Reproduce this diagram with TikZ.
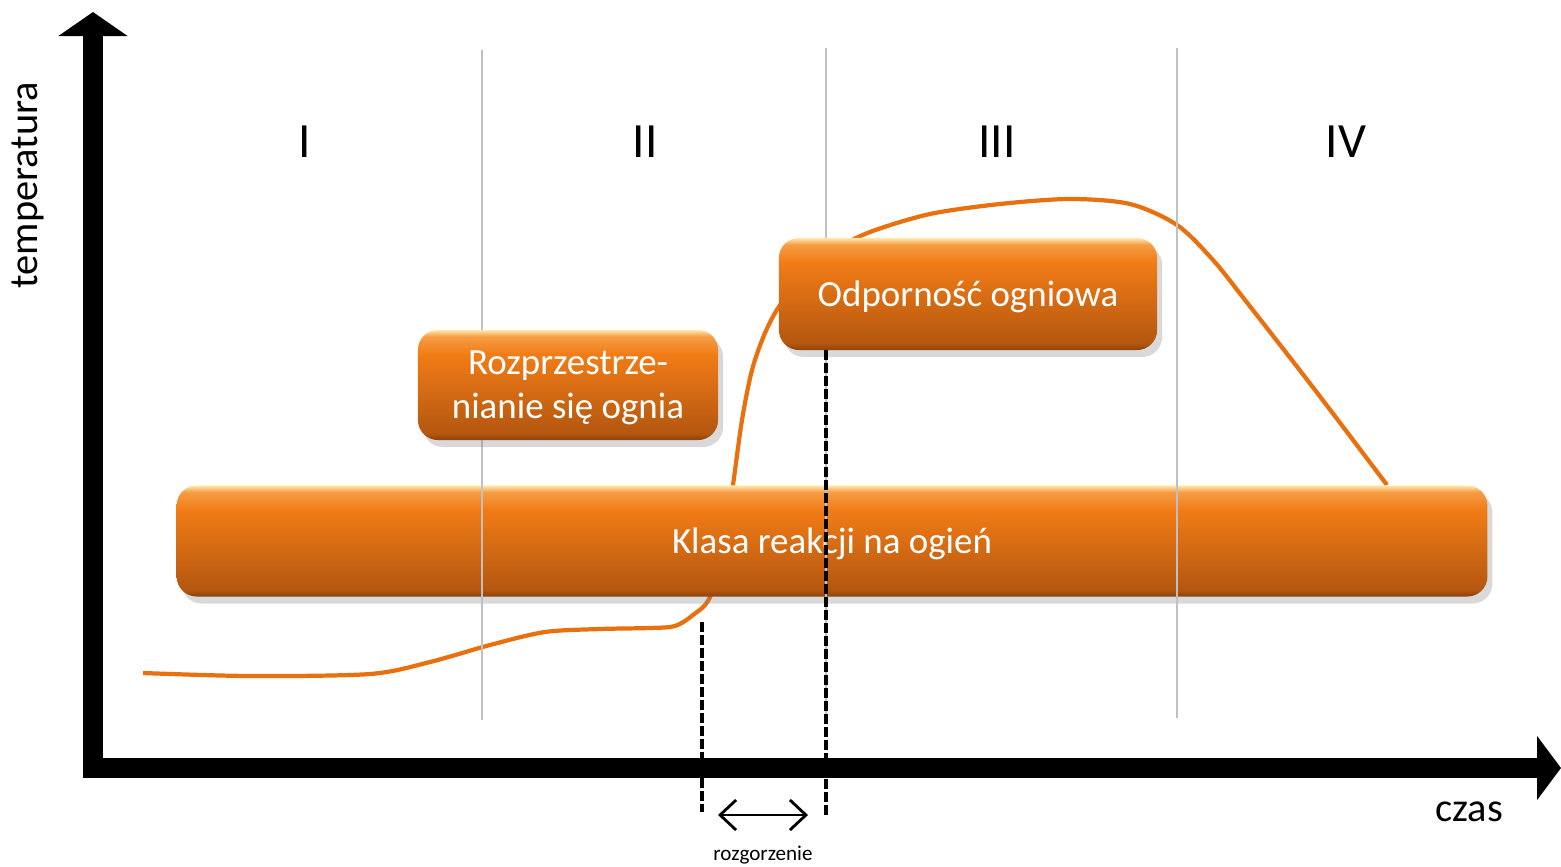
\documentclass[tikz,border=0pt]{standalone}
\usepackage{fontspec}
\setmainfont{Carlito}
\usetikzlibrary{arrows.meta,shadows}

\definecolor{fireorange}{RGB}{232,112,15}
\definecolor{boxtop}{RGB}{241,124,22}
\definecolor{boxbottom}{RGB}{180,87,16}
\definecolor{boxdark}{RGB}{140,66,12}
\definecolor{boxlight}{RGB}{255,232,175}
\definecolor{phaseline}{RGB}{192,192,192}
\pgfdeclareverticalshading{boxshade}{100bp}{color(0bp)=(boxdark); color(25bp)=(boxdark); color(28bp)=(boxbottom); color(64bp)=(boxtop); color(72bp)=(boxtop!70!boxlight); color(75bp)=(boxlight); color(100bp)=(boxlight)}

\begin{document}
\begin{tikzpicture}[x=0.01cm, y=-0.01cm,
  phase/.style={draw=phaseline, line width=0.5pt},
  fazabox/.style={rectangle, rounded corners=2mm, shading=boxshade, inner sep=0pt,
    text=white, align=center, font=\fontsize{10.5}{12.5}\selectfont, text depth=0pt,
    drop shadow={opacity=0.3, shadow xshift=0.5mm, shadow yshift=-0.7mm}},
  axis/.style={line width=5.7pt, {Triangle[width=6.8mm, length=2.4mm]}-{Triangle[width=6.3mm, length=2.4mm]}},
  marker/.style={line width=0.9pt, dash pattern=on 2.8pt off 0.9pt},
  roman/.style={font=\fontsize{14}{16}\selectfont}]
\useasboundingbox (0,0) rectangle (1561,866);
\draw[fireorange, line width=1.2pt, line join=round] plot[smooth, tension=0.5] coordinates {(143,673) (250,676) (370,674) (430,662) (490,645) (545,632) (600,629) (650,628) (675,626) (693,615) (710,597) (725,540) (733,485) (742,420) (752,370) (765,333) (780,305) (805,275) (835,250) (870,232) (930,214) (1000,204) (1070,199) (1130,204) (1177,225) (1213,260) (1245,300) (1315,390) (1387,485)};
\node[fazabox, minimum width=131mm, minimum height=11.1mm] (klasa) at (832,541) {Klasa reakcji na ogień};
\draw[phase] (482,50) -- (482,720);
\draw[phase] (826,48) -- (826,720);
\draw[phase] (1177,48) -- (1177,718);
\node[fazabox, minimum width=30mm, minimum height=11mm] (rozprz) at (568,385) {Rozprzestrze-\\nianie się ognia};
\node[fazabox, minimum width=37.8mm, minimum height=11.2mm] (odpor) at (968,294) {Odporność ogniowa};
\node[roman] (f1) at (305,142) {I};
\node[roman] (f2) at (645,142) {II};
\node[roman] (f3) at (997,142) {III};
\node[roman] (f4) at (1346,142) {IV};
\coordinate (ytip) at (93,12);
\coordinate (origin) at (93,768);
\coordinate (xtip) at (1561,768);
\draw[axis, line join=miter] (ytip) -- (origin) -- (xtip);
\node[rotate=90, font=\fontsize{11.5}{14}\selectfont] (temp) at (28,185) {temperatura};
\node[font=\fontsize{11.5}{14}\selectfont] (czas) at (1469,812) {czas};
\coordinate (flashtop) at (702,622);
\coordinate (flashbot) at (702,812);
\coordinate (odportop) at (826,350);
\coordinate (odporbot) at (826,815);
\draw[marker] (flashtop) -- (flashbot);
\draw[marker] (odportop) -- (odporbot);
\coordinate (rs) at (718,815);
\coordinate (re) at (808,815);
\draw[line width=0.8pt, {Straight Barb[length=1.6mm, width=3mm]}-{Straight Barb[length=1.6mm, width=3mm]}] (rs) -- (re);
\node[font=\fontsize{6}{7}\selectfont] (rozg) at (763,855) {rozgorzenie};
\end{tikzpicture}
\end{document}
